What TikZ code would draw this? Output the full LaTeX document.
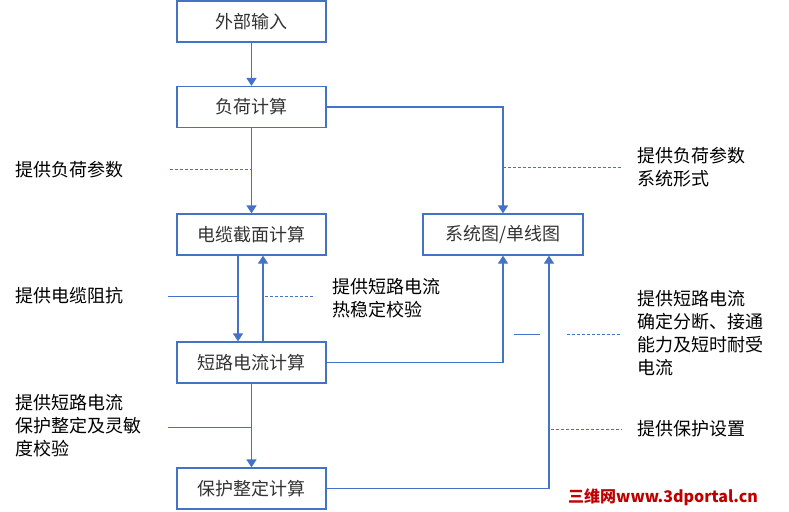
\documentclass[tikz,border=0pt]{standalone}
\usepackage{fontspec}
\setmainfont{Noto Sans CJK SC}
\usepackage{tikz}
\usetikzlibrary{arrows.meta,positioning,calc}
\definecolor{lineblue}{HTML}{4472C4}

\begin{document}
\begin{tikzpicture}[
  x=1pt,y=-1pt,
  font=\fontsize{18}{23}\selectfont,
  box/.style={rectangle,draw=lineblue,line width=1.2pt,minimum width=149pt,minimum height=41pt,inner sep=2pt,text=black!80},
  flow/.style={draw=lineblue,line width=1.2pt,-{Triangle[width=10pt,length=8pt]}},
  note/.style={draw=lineblue,line width=0.7pt,dash pattern=on 3pt off 2pt},
  tie/.style={draw=lineblue,line width=1pt},
  txt/.style={anchor=west,align=left,inner sep=0pt},
  >=Latex
]
\useasboundingbox (0,0) rectangle (789,511);
\node[box] (input) at (251.5,21.5) {外部输入};
\node[box] (load) at (251.5,107) {负荷计算};
\node[box] (cable) at (251.5,234.5) {电缆截面计算};
\node[box,minimum width=160pt] (sys) at (503,234.5) {系统图/单线图};
\node[box] (sc) at (251.5,362.5) {短路电流计算};
\node[box] (prot) at (251.5,488.5) {保护整定计算};
\draw[flow] (input)--(load);
\draw[flow] (load)--(cable);
\draw[flow,line width=1.6pt] (load.east)-|(sys.north);
\draw[flow] ([xshift=-13.5pt]cable.south)--([xshift=-13.5pt]sc.north);
\draw[flow] ([xshift=11.5pt]sc.north)--([xshift=11.5pt]cable.south);
\draw[flow] (sc.east)-|(sys.south);
\draw[flow] (prot.east)-|([xshift=46pt]sys.south);
\draw[flow] (sc)--(prot);
% side notes
\node[txt] (n1) at (15,170) {提供负荷参数};
\node[txt] (n2) at (637,167) {提供负荷参数\\系统形式};
\node[txt] (n3) at (15,296) {提供电缆阻抗};
\node[txt] (n4) at (332,298) {提供短路电流\\热稳定校验};
\node[txt] (n5) at (637,333) {提供短路电流\\确定分断、接通\\能力及短时耐受\\电流};
\node[txt] (n6) at (15,426) {提供短路电流\\保护整定及灵敏\\度校验};
\node[txt] (n7) at (637,429) {提供保护设置};
\coordinate (d1) at (170,169);
\coordinate (d2) at (622,167);
\coordinate (d3) at (168,296);
\coordinate (d4) at (315,296);
\coordinate (d5) at (622,334);
\coordinate (d6) at (168,427);
\coordinate (d7) at (622,429);
\draw[note] (d1)--(d1 -| load.south);
\draw[note] (d2 -| sys.north)--(d2);
\draw[tie] (d3)--(d3 -| {$(cable.south)+(-13.5,0)$});
\draw[note] ($(d4 -| sc.north)+(13.5,0)$)--(d4);
\draw[note] ($(d5 -| sys.south)+(64,0)$)--(d5);
\draw[tie] ($(d5 -| sys.south)+(11,0)$)--($(d5 -| sys.south)+(37,0)$);
\draw[tie] (d6)--(d6 -| sc.south);
\draw[note] ($(d7 -| sys.south)+(48,0)$)--(d7);
\node[anchor=west,inner sep=0pt,font=\bfseries\fontsize{16}{16}\selectfont,text=red!75!black] (mark) at (568,497) {三维网www.3dportal.cn};
\end{tikzpicture}
\end{document}
